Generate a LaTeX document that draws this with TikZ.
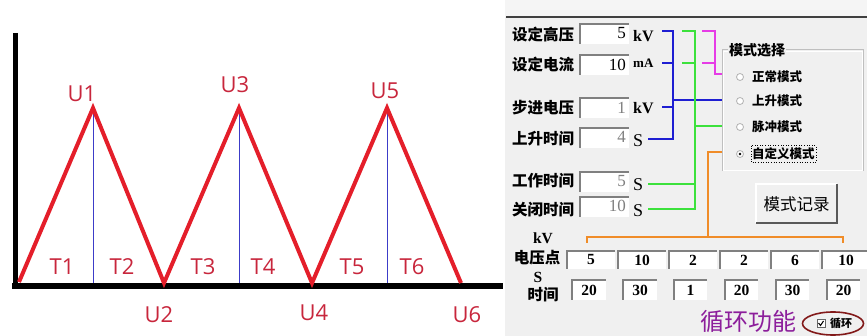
\documentclass[tikz,border=0pt]{standalone}
\usepackage{fontspec}
\setmainfont{Liberation Serif}
\newfontfamily\cjk{Noto Sans CJK SC}
\newfontfamily\plotfont{Open Sans}
\usetikzlibrary{calc}
\definecolor{curvered}{RGB}{228,30,42}
\definecolor{labred}{RGB}{200,38,60}
\definecolor{stemblue}{RGB}{60,60,200}
\definecolor{panelgray}{RGB}{240,240,240}
\definecolor{wireblue}{RGB}{30,30,210}
\definecolor{wiregreen}{RGB}{60,225,60}
\definecolor{wiremagenta}{RGB}{230,60,230}
\definecolor{wireorange}{RGB}{240,140,40}
\definecolor{loopviolet}{RGB}{140,30,155}
\definecolor{ringred}{RGB}{130,25,25}
\tikzset{
  plotlabel/.style={text=labred, inner sep=0pt, font=\plotfont\fontsize{22}{22}\selectfont},
  fieldlabel/.style={anchor=west, inner sep=0pt, font=\cjk\bfseries\fontsize{15.5}{16}\selectfont},
  fieldvalue/.style={anchor=east, inner sep=0pt, font=\fontsize{17}{17}\selectfont},
  unitlabel/.style={anchor=west, inner sep=0pt, font=\bfseries\fontsize{16}{16}\selectfont},
  modeitem/.style={anchor=west, inner sep=0pt, font=\cjk\bfseries\fontsize{12.5}{13}\selectfont},
  cellvalue/.style={inner sep=0pt, font=\bfseries\fontsize{15.5}{16}\selectfont},
  wire/.style={line width=1.3pt}
}
\def\sunkenbox(#1,#2)(#3,#4){\fill[white] (#1,#2) rectangle (#3,#4); \draw[line width=1.3pt, black!50] (#1,#4) -- (#1,#2) -- (#3,#2);}
\def\radio(#1,#2){\draw[line width=0.8pt, black!30, fill=white] (#1,#2) circle (3.5pt);}

\begin{document}
\begin{tikzpicture}[x=1pt,y=-1pt]
			%%%%% START %%%%%
			\useasboundingbox (0,0) rectangle (867,336);
			\fill[white] (0,0) rectangle (505,336);
			\fill[black!4] (505,0) rectangle (867,17);
			\fill[panelgray] (505,17) rectangle (867,336);
			\draw[line width=1.2pt, black!75] (506,17) -- (867,17);
			
			%% waveform
			\coordinate (base) at (0,286);
			\coordinate (U0) at (19,282);
			\coordinate (U1) at (93,108);
			\coordinate (U2) at (164,283);
			\coordinate (U3) at (239,108);
			\coordinate (U4) at (312,283);
			\coordinate (U5) at (387,108);
			\coordinate (U6) at (461,283);
			
			\draw[stemblue, line width=0.9pt] (U1) -- (U1 |- base);
			\draw[stemblue, line width=0.9pt] (U3) -- (U3 |- base);
			\draw[stemblue, line width=0.9pt] (U5) -- (U5 |- base);
			
			\draw[line width=5pt] (15,33) -- (15,289);
			\draw[line width=6pt] (12,286) -- (503,286);
			\draw[curvered, line width=4pt, line join=miter] (U0) -- (U1) -- (U2) -- (U3) -- (U4) -- (U5) -- (U6);
			
			\node[plotlabel] (lu1) at (82,94) {U1};
			\node[plotlabel] (lu2) at (159,315) {U2};
			\node[plotlabel] (lu3) at (235,85) {U3};
			\node[plotlabel] (lu4) at (314,313) {U4};
			\node[plotlabel] (lu5) at (385,91) {U5};
			\node[plotlabel] (lu6) at (467,315) {U6};
			\node[plotlabel] (lt1) at (62,267) {T1};
			\node[plotlabel] (lt2) at (122,267) {T2};
			\node[plotlabel] (lt3) at (203,267) {T3};
			\node[plotlabel] (lt4) at (263,267) {T4};
			\node[plotlabel] (lt5) at (352,267) {T5};
			\node[plotlabel] (lt6) at (412,267) {T6};
			
			%% settings fields
			\node[fieldlabel] (fhv) at (512,35) {设定高压};
			\node[fieldlabel] (fcur) at (512,65) {设定电流};
			\node[fieldlabel] (fstep) at (512,108) {步进电压};
			\node[fieldlabel] (frise) at (512,139) {上升时间};
			\node[fieldlabel] (fwork) at (512,181) {工作时间};
			\node[fieldlabel] (foff) at (512,210) {关闭时间};
			
			\sunkenbox(580,24)(629,44);
			\sunkenbox(580,55)(629,75);
			\sunkenbox(580,98)(629,118);
			\sunkenbox(580,128)(629,148);
			\sunkenbox(580,172)(629,192);
			\sunkenbox(580,197)(629,217);
			
			\node[fieldvalue] (vhv) at (626,33) {5};
			\node[fieldvalue] (vcur) at (626,65) {10};
			\node[fieldvalue, black!50] (vstep) at (626,108) {1};
			\node[fieldvalue, black!50] (vrise) at (626,137) {4};
			\node[fieldvalue, black!50] (vwork) at (626,181) {5};
			\node[fieldvalue, black!50] (voff) at (626,206) {10};
			
			\node[unitlabel] (uhv) at (633,36) {kV};
			\node[unitlabel, font=\bfseries\fontsize{13}{13}\selectfont] (ucur) at (633,63) {mA};
			\node[unitlabel] (ustep) at (633,108) {kV};
			\node[unitlabel, font=\fontsize{18}{18}\selectfont] (urise) at (633,141) {S};
			\node[unitlabel, font=\fontsize{18}{18}\selectfont] (uwork) at (633,185) {S};
			\node[unitlabel, font=\fontsize{18}{18}\selectfont] (uoff) at (633,211) {S};
			
			%% mode group
			\draw[line width=1pt, black!25] (722,50) rectangle (863,171);
			\draw[line width=0.8pt, white] (723,51) rectangle (862,170);
			\node[anchor=west, fill=panelgray, inner sep=1pt, font=\cjk\bfseries\fontsize{14}{14}\selectfont] (mtitle) at (728,50) {模式选择};
			\radio(740,77);
			\radio(740,101);
			\radio(740,127);
			\radio(740,154);
			\fill (740,154) circle (1.3pt);
			\node[modeitem] (mnorm) at (752,77) {正常模式};
			\node[modeitem] (mrise) at (752,101) {上升模式};
			\node[modeitem] (mpulse) at (752,127) {脉冲模式};
			\node[modeitem] (muser) at (752,154) {自定义模式};
			\draw[dotted, line width=0.6pt] (muser.north west) ++(-1,-2) rectangle ($(muser.south east)+(1,2)$);
			
			\fill[panelgray] (756,184) rectangle (837,223);
			\draw[line width=1.3pt, white] (756,223) -- (756,184) -- (837,184);
			\draw[line width=1.3pt, black!65] (756,223) -- (837,223) -- (837,184);
			\node[font=\cjk\fontsize{16.5}{17}\selectfont] (brec) at (796.5,204) {模式记录};
			
			%% wires
			\draw[wire, wireblue] (662,31) -- (673,31) -- (673,139) -- (648,139);
			\draw[wire, wireblue] (662,63) -- (673,63);
			\draw[wire, wireblue] (662,107) -- (673,107);
			\draw[wire, wireblue] (673,100) -- (722,100);
			\draw[wire, wiregreen] (682,31) -- (695,31) -- (695,209) -- (648,209);
			\draw[wire, wiregreen] (682,63) -- (695,63);
			\draw[wire, wiregreen] (648,184) -- (695,184);
			\draw[wire, wiregreen] (695,126) -- (722,126);
			\draw[wire, wiremagenta] (702,31) -- (715,31) -- (715,74) -- (722,74);
			\draw[wire, wiremagenta] (702,63) -- (715,63);
			\draw[wire, wireorange] (722,152) -- (708,152) -- (708,237);
			\draw[wire, wireorange] (587,243) -- (587,237) -- (843,237) -- (843,243);
			
			%% point table
			\node[cellvalue] (tkv) at (543,238) {kV};
			\node[font=\cjk\bfseries\fontsize{15.5}{16}\selectfont, inner sep=0pt] (tvolt) at (537,258) {电压点};
			\node[cellvalue] (ts) at (538,277) {S};
			\node[font=\cjk\bfseries\fontsize{15.5}{16}\selectfont, inner sep=0pt] (ttime) at (543,295) {时间};
			
			\sunkenbox(567,251)(615,269);
			\sunkenbox(618,251)(666,269);
			\sunkenbox(669,251)(717,269);
			\sunkenbox(720,251)(768,269);
			\sunkenbox(771,251)(819,269);
			\sunkenbox(822,251)(867,269);
			\node[cellvalue] (p1) at (591,260) {5};
			\node[cellvalue] (p2) at (642,260) {10};
			\node[cellvalue] (p3) at (693,260) {2};
			\node[cellvalue] (p4) at (744,260) {2};
			\node[cellvalue] (p5) at (795,260) {6};
			\node[cellvalue] (p6) at (846,260) {10};
			
			\sunkenbox(572,280)(606,300);
			\sunkenbox(623,280)(657,300);
			\sunkenbox(674,280)(707,300);
			\sunkenbox(725,280)(758,300);
			\sunkenbox(776,280)(809,300);
			\sunkenbox(827,280)(860,300);
			\node[cellvalue] (d1) at (589,290) {20};
			\node[cellvalue] (d2) at (640,290) {30};
			\node[cellvalue] (d3) at (690.5,290) {1};
			\node[cellvalue] (d4) at (741.5,290) {20};
			\node[cellvalue] (d5) at (792.5,290) {30};
			\node[cellvalue] (d6) at (843.5,290) {20};
			
			%% loop
			\node[text=loopviolet, inner sep=0pt, font=\cjk\fontsize{24}{24}\selectfont] (loop) at (748,321) {循环功能};
			\draw[ringred, line width=1.6pt] (833,323.5) ellipse [x radius=30.5pt, y radius=11.5pt];
			\draw[line width=0.8pt, black!60, fill=white] (817,319.5) rectangle (825,327.5);
			\draw[line width=1pt] (818.5,323) -- (820.5,325.5) -- (823.5,321);
			\node[anchor=west, inner sep=0pt, font=\cjk\bfseries\fontsize{11}{11}\selectfont] (lcheck) at (830,323.5) {循环};
			
			%%%%% END %%%%%
\end{tikzpicture}
\end{document}
